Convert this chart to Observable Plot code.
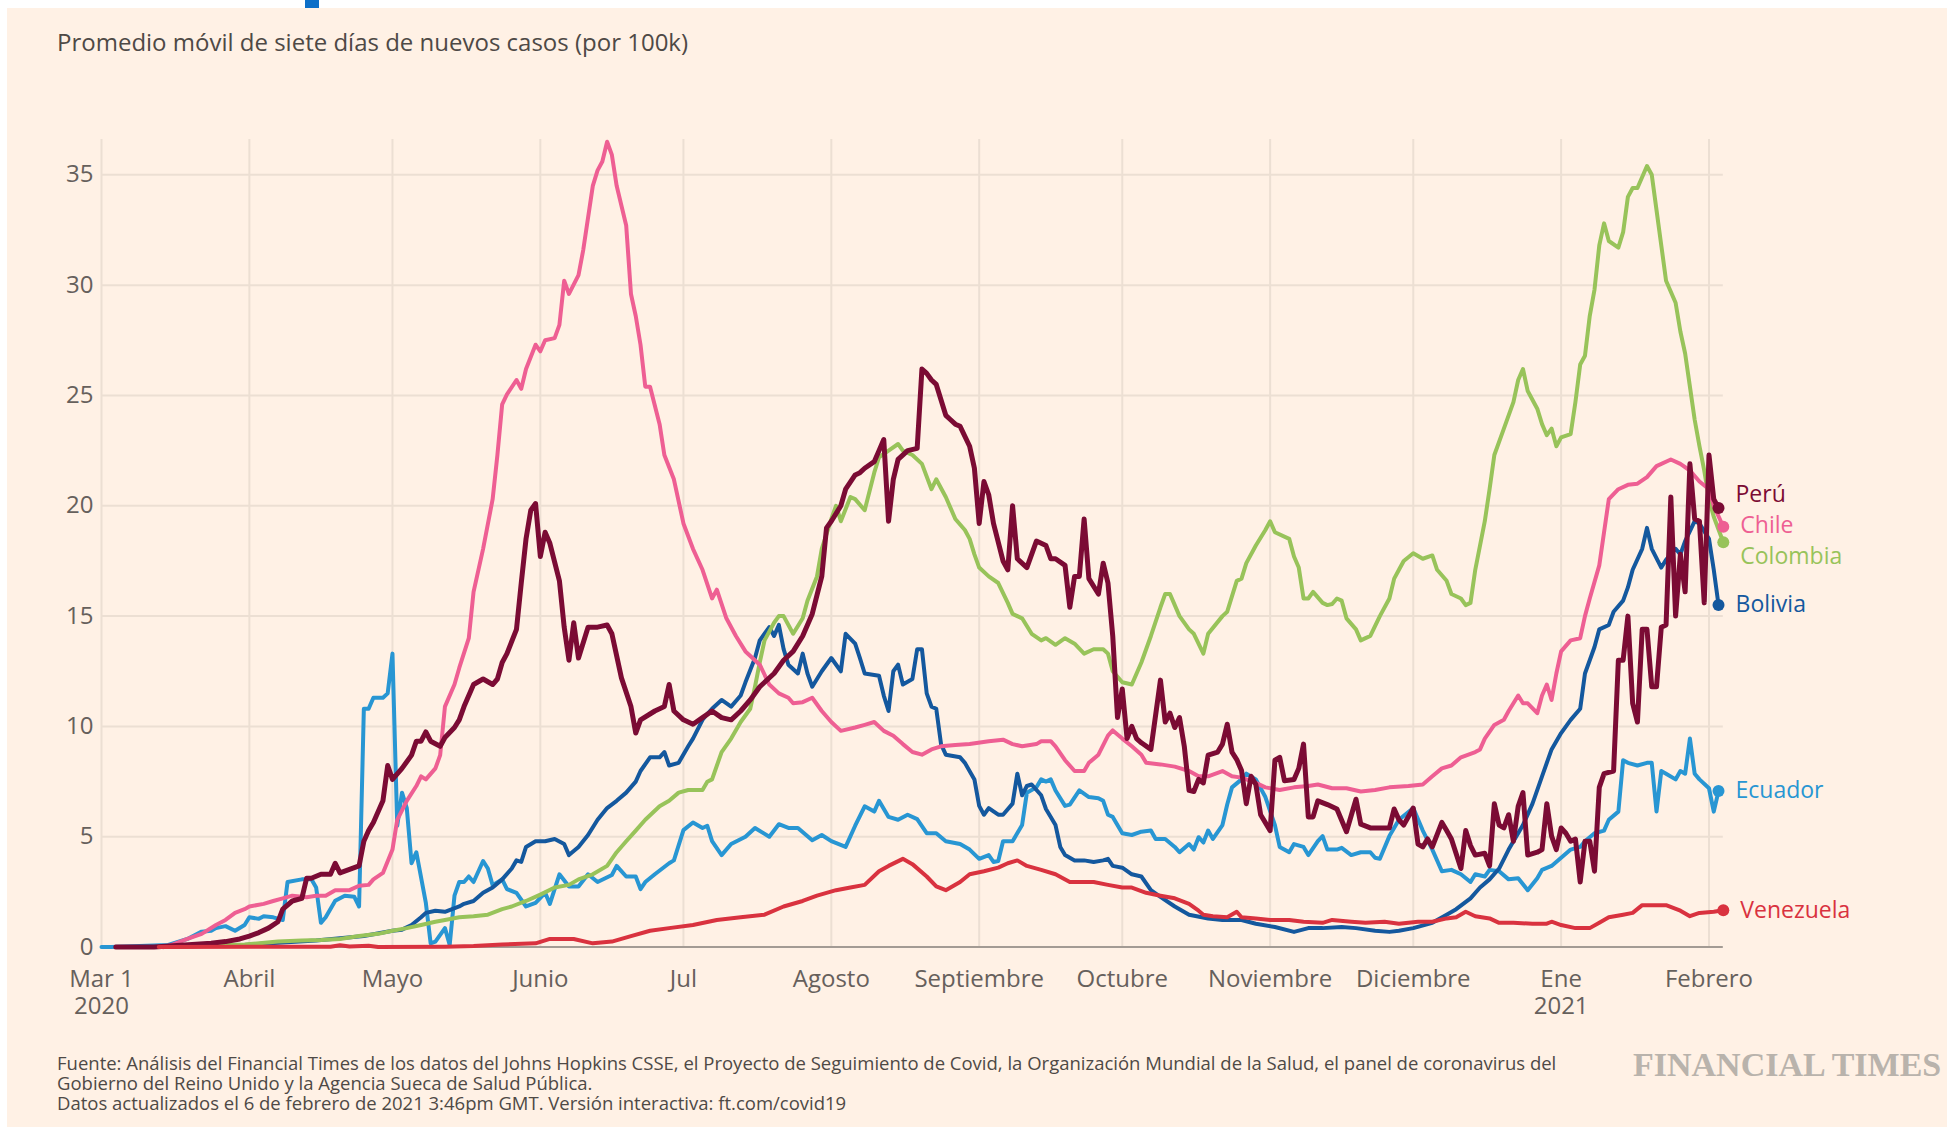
<!DOCTYPE html>
<html>
<head>
<meta charset="utf-8">
<script src="https://cdn.jsdelivr.net/npm/d3@7"></script>
<script src="https://cdn.jsdelivr.net/npm/@observablehq/plot@0.6"></script>
<style>
  html, body { margin: 0; padding: 0; background: #ffffff; }
  body { width: 1947px; height: 1130px; position: relative; overflow: hidden; font-family: 'Open Sans', sans-serif; }
  #bg { position: absolute; left: 7px; top: 8px; right: 0; bottom: 3px; background: #FFF1E5; }
  #bar { position: absolute; left: 305px; top: 0; width: 14px; height: 8px; background: #0d6fc8; }
  #title { position: absolute; left: 57px; top: 30px; font-size: 24px; line-height: 24px; color: #4e4946; white-space: nowrap; }
  #chart { position: absolute; left: 0; top: 0; }
  #footer { position: absolute; left: 57px; top: 1053px; font-size: 18.5px; line-height: 20px; color: #4e4946; white-space: nowrap; }
  #logo { position: absolute; left: 1633px; top: 1048px; font-family: 'Liberation Serif', 'DejaVu Serif', serif; font-weight: bold; font-size: 34px; line-height: 34px; color: #b9b3ac; white-space: nowrap; }
</style>
</head>
<body>
<div id="bg"></div>
<div id="bar"></div>
<div id="title">Promedio móvil de siete días de nuevos casos (por 100k)</div>
<div id="chart"></div>
<div id="footer">Fuente: Análisis del Financial Times de los datos del Johns Hopkins CSSE, el Proyecto de Seguimiento de Covid, la Organización Mundial de la Salud, el panel de coronavirus del<br>Gobierno del Reino Unido y la Agencia Sueca de Salud Pública.<br>Datos actualizados el 6 de febrero de 2021 3:46pm GMT. Versión interactiva: ft.com/covid19</div>
<div id="logo">FINANCIAL TIMES</div>
<script>
// ---------- DATA (day offset from 2020-03-01, 7-day avg new cases per 100k) ----------
const startDate = "2020-03-01";
const endDate = "2021-02-04";

const tickDates = ["2020-03-01","2020-04-01","2020-05-01","2020-06-01","2020-07-01","2020-08-01","2020-09-01","2020-10-01","2020-11-01","2020-12-01","2021-01-01","2021-02-01"];
const tickLabels = ["Mar 1\n2020","Abril","Mayo","Junio","Jul","Agosto","Septiembre","Octubre","Noviembre","Diciembre","Ene\n2021","Febrero"];
const yTicks = [0,5,10,15,20,25,30,35];

const ecuador = [[0,0],[2,0],[14,0.1],[18,0.37],[21,0.7],[23,0.74],[24,0.86],[26,0.95],[28,0.74],[30,1.0],[31,1.35],[33,1.28],[34,1.4],[36,1.35],[38,1.23],[39,2.95],[42,3.07],[44,3.07],[45,2.7],[46,1.1],[47,1.35],[49,2.1],[51,2.33],[53,2.28],[54,1.84],[55,10.8],[56,10.8],[57,11.3],[59,11.3],[60,11.5],[61,13.3],[62,5.5],[63,7.0],[64,6.3],[65,3.8],[66,4.3],[68,2.0],[69,0.17],[70,0.25],[72,0.86],[73,0.1],[74,2.33],[75,2.95],[76,2.95],[77,3.2],[78,2.95],[80,3.9],[81,3.56],[82,2.8],[84,3.07],[85,2.63],[87,2.46],[89,1.84],[91,2.0],[93,2.46],[94,1.96],[96,3.3],[98,2.75],[100,2.75],[102,3.3],[104,2.95],[107,3.27],[108,3.68],[110,3.2],[112,3.2],[113,2.63],[114,2.95],[116,3.3],[119,3.8],[120,3.93],[122,5.3],[124,5.65],[126,5.4],[127,5.5],[128,4.8],[130,4.17],[132,4.67],[135,5.0],[137,5.4],[140,5.0],[142,5.57],[144,5.4],[146,5.4],[149,4.84],[151,5.08],[153,4.8],[156,4.54],[158,5.5],[160,6.38],[162,6.14],[163,6.63],[165,5.9],[167,5.77],[169,6.0],[171,5.8],[173,5.16],[175,5.16],[177,4.8],[180,4.67],[182,4.42],[184,4.0],[186,4.17],[187,3.86],[188,3.9],[189,4.8],[191,4.8],[193,5.53],[194,7.0],[196,7.24],[197,7.6],[198,7.5],[199,7.6],[200,7.1],[202,6.4],[203,6.46],[205,7.1],[207,6.8],[209,6.75],[210,6.63],[211,6.0],[212,5.9],[214,5.16],[216,5.08],[218,5.23],[220,5.28],[221,4.9],[223,4.9],[225,4.54],[226,4.3],[228,4.67],[229,4.42],[230,4.98],[231,4.74],[232,5.28],[233,4.9],[235,5.53],[236,6.46],[237,7.24],[239,7.6],[240,7.86],[242,7.6],[244,6.8],[246,5.53],[247,4.54],[249,4.3],[250,4.67],[252,4.54],[253,4.17],[255,4.8],[256,5.03],[257,4.42],[259,4.42],[260,4.5],[262,4.17],[264,4.3],[266,4.3],[267,4.05],[268,4.0],[270,5.03],[272,5.77],[275,6.3],[277,5.28],[279,4.42],[281,3.44],[283,3.5],[285,3.3],[287,2.95],[288,3.3],[290,3.2],[291,3.5],[293,3.44],[295,3.07],[297,3.12],[299,2.58],[301,3.12],[302,3.5],[304,3.68],[306,4.05],[308,4.42],[310,4.54],[311,4.8],[313,5.16],[315,5.28],[316,5.77],[318,6.14],[319,8.47],[320,8.35],[322,8.23],[324,8.35],[325,8.35],[326,6.14],[327,7.98],[328,7.86],[330,7.6],[331,7.98],[332,7.86],[333,9.45],[334,7.86],[335,7.6],[337,7.2],[338,6.14],[339,7.07]];

const bolivia = [[13,0],[30,0.1],[45,0.3],[55,0.5],[61,0.74],[63,0.79],[65,1.0],[67,1.35],[68,1.55],[70,1.65],[72,1.6],[75,1.84],[76,1.96],[78,2.09],[80,2.46],[82,2.7],[84,3.07],[86,3.56],[87,3.93],[88,3.86],[89,4.54],[91,4.8],[93,4.8],[95,4.9],[97,4.67],[98,4.17],[100,4.54],[102,5.08],[104,5.77],[106,6.3],[108,6.63],[110,7.0],[112,7.5],[113,7.98],[115,8.6],[117,8.6],[118,8.84],[119,8.23],[121,8.35],[123,9.1],[124,9.45],[126,10.3],[127,10.56],[128,10.8],[130,11.2],[132,10.9],[134,11.4],[135,12.0],[137,13.1],[138,13.9],[140,14.5],[141,14.1],[142,14.6],[143,13.5],[144,12.8],[146,12.4],[147,13.3],[148,12.4],[149,11.8],[151,12.5],[153,13.1],[155,12.5],[156,14.2],[158,13.75],[159,13.1],[160,12.4],[163,12.3],[164,11.4],[165,10.7],[166,12.5],[167,12.8],[168,11.9],[170,12.15],[171,13.5],[172,13.5],[173,11.5],[174,10.9],[175,10.8],[176,9.2],[177,8.72],[180,8.6],[181,8.35],[183,7.6],[184,6.4],[185,6.0],[186,6.3],[188,6.0],[189,6.0],[191,6.5],[192,7.86],[193,6.88],[194,7.3],[195,7.37],[197,6.88],[198,6.26],[200,5.53],[201,4.54],[202,4.17],[204,3.93],[206,3.93],[208,3.86],[210,3.93],[211,4.0],[212,3.68],[214,3.6],[216,3.3],[218,3.2],[220,2.58],[222,2.28],[225,1.84],[228,1.47],[232,1.3],[235,1.23],[239,1.23],[242,1.06],[246,0.91],[250,0.69],[253,0.86],[256,0.86],[260,0.91],[263,0.86],[267,0.74],[270,0.69],[272,0.74],[275,0.86],[279,1.1],[282,1.47],[284,1.72],[287,2.21],[289,2.7],[291,3.07],[293,3.56],[295,4.42],[298,5.53],[300,6.5],[302,7.74],[304,8.96],[306,9.7],[308,10.3],[310,10.8],[311,12.4],[313,13.6],[314,14.4],[316,14.6],[317,15.2],[319,15.7],[320,16.3],[321,17.1],[323,18.05],[324,19.0],[325,18.05],[327,17.2],[328,17.55],[330,18.05],[331,17.8],[332,18.4],[334,19.3],[335,19.2],[337,18.5],[338,17.1],[339,15.5]];

const colombia = [[13,0],[20,0.05],[30,0.12],[37,0.25],[42,0.3],[46,0.32],[50,0.37],[54,0.5],[58,0.6],[61,0.74],[64,0.86],[67,1.0],[70,1.15],[72,1.23],[75,1.35],[78,1.4],[81,1.47],[84,1.72],[86,1.84],[89,2.09],[92,2.38],[95,2.7],[98,2.82],[100,3.07],[103,3.3],[106,3.68],[108,4.3],[110,4.8],[112,5.28],[114,5.77],[117,6.38],[119,6.63],[121,7.0],[123,7.12],[126,7.12],[127,7.49],[128,7.6],[130,8.84],[132,9.45],[134,10.2],[136,10.8],[137,11.8],[138,12.9],[139,13.9],[141,14.7],[142,15.0],[143,15.0],[145,14.2],[147,14.9],[148,15.7],[150,16.8],[151,18.05],[153,19.4],[154,20.0],[155,19.3],[157,20.4],[158,20.3],[160,19.8],[162,21.5],[163,22.2],[165,22.5],[167,22.8],[168,22.5],[170,22.3],[172,21.9],[174,20.75],[175,21.2],[177,20.4],[179,19.4],[181,18.9],[182,18.5],[183,17.8],[184,17.2],[186,16.8],[188,16.5],[190,15.6],[191,15.1],[193,14.9],[195,14.2],[197,13.9],[198,14.0],[200,13.7],[202,14.0],[204,13.75],[206,13.3],[208,13.5],[210,13.5],[211,13.3],[212,12.5],[214,12.0],[216,11.9],[218,12.9],[220,14.1],[222,15.4],[223,16.0],[224,16.0],[226,15.0],[228,14.4],[229,14.2],[231,13.3],[232,14.2],[235,15.0],[236,15.2],[238,16.6],[239,16.7],[240,17.4],[242,18.2],[244,18.9],[245,19.3],[246,18.8],[249,18.5],[250,17.7],[251,17.2],[252,15.8],[253,15.8],[254,16.1],[256,15.6],[257,15.5],[258,15.55],[259,15.8],[260,15.7],[261,14.9],[263,14.4],[264,13.9],[265,14.0],[266,14.1],[268,15.0],[270,15.8],[271,16.7],[272,17.1],[273,17.5],[275,17.85],[277,17.6],[279,17.75],[280,17.1],[282,16.6],[283,16.0],[285,15.8],[286,15.5],[287,15.6],[288,17.1],[290,19.3],[291,20.75],[292,22.3],[294,23.5],[296,24.7],[297,25.7],[298,26.2],[299,25.2],[301,24.4],[302,23.7],[303,23.2],[304,23.5],[305,22.7],[306,23.1],[308,23.25],[309,24.7],[310,26.4],[311,26.8],[312,28.6],[313,29.8],[314,31.8],[315,32.8],[316,32.0],[318,31.7],[319,32.4],[320,34.0],[321,34.4],[322,34.4],[324,35.4],[325,35.0],[326,33.4],[327,31.8],[328,30.2],[330,29.2],[331,27.9],[332,26.9],[333,25.4],[334,23.9],[335,22.7],[336,21.6],[337,20.3],[338,19.5],[340,18.35]];

const chile = [[13,0],[15,0.12],[18,0.37],[21,0.6],[24,1.0],[26,1.23],[28,1.55],[30,1.72],[31,1.84],[34,1.96],[36,2.09],[38,2.21],[40,2.33],[43,2.26],[45,2.33],[47,2.33],[49,2.58],[52,2.58],[54,2.78],[56,2.82],[57,3.07],[59,3.36],[61,4.42],[62,5.77],[64,6.63],[66,7.3],[67,7.74],[68,7.6],[70,8.1],[71,8.7],[72,10.9],[74,11.9],[75,12.65],[77,14.0],[78,16.1],[80,18.05],[82,20.3],[83,22.3],[84,24.6],[85,25.05],[87,25.7],[88,25.3],[89,26.2],[91,27.3],[92,27.0],[93,27.5],[95,27.6],[96,28.2],[97,30.2],[98,29.6],[100,30.45],[101,31.6],[103,34.5],[104,35.2],[105,35.6],[106,36.5],[107,35.9],[108,34.5],[110,32.7],[111,29.6],[112,28.6],[113,27.3],[114,25.4],[115,25.4],[117,23.7],[118,22.3],[120,21.2],[122,19.2],[124,18.05],[126,17.1],[128,15.8],[129,16.2],[131,14.9],[133,14.1],[135,13.4],[138,12.8],[140,11.9],[142,11.5],[144,11.3],[145,11.05],[147,11.1],[149,11.3],[151,10.7],[153,10.2],[155,9.8],[158,9.95],[160,10.07],[162,10.2],[164,9.8],[166,9.58],[168,9.2],[170,8.84],[172,8.72],[174,8.96],[176,9.1],[179,9.16],[182,9.2],[186,9.33],[189,9.4],[191,9.2],[193,9.1],[196,9.2],[197,9.33],[199,9.33],[200,9.1],[202,8.47],[204,7.98],[206,7.98],[207,8.35],[209,8.72],[211,9.58],[212,9.82],[214,9.45],[216,9.1],[218,8.72],[219,8.35],[222,8.28],[225,8.18],[228,7.98],[230,7.74],[232,7.74],[235,7.98],[237,7.74],[239,7.68],[242,7.44],[244,7.24],[247,7.12],[250,7.24],[253,7.3],[255,7.37],[258,7.2],[261,7.2],[264,7.05],[267,7.12],[270,7.24],[274,7.3],[277,7.37],[279,7.74],[281,8.1],[283,8.23],[285,8.6],[288,8.84],[289,8.96],[290,9.45],[292,10.07],[294,10.3],[295,10.7],[297,11.4],[298,11.05],[299,11.05],[301,10.6],[302,11.4],[303,11.9],[304,11.2],[305,12.4],[306,13.4],[308,13.9],[310,14.0],[311,15.0],[312,15.8],[314,17.3],[315,18.8],[316,20.3],[318,20.75],[320,20.95],[322,21.0],[324,21.3],[326,21.8],[329,22.1],[331,21.9],[333,21.6],[335,21.1],[337,20.75],[338,20.0],[340,19.05]];

const peru = [[3,0],[11,0],[19,0.12],[23,0.17],[26,0.25],[29,0.37],[31,0.5],[33,0.66],[35,0.86],[37,1.15],[38,1.72],[40,2.09],[42,2.21],[43,3.12],[44,3.12],[46,3.3],[48,3.3],[49,3.8],[50,3.36],[51,3.44],[53,3.6],[54,3.68],[55,4.8],[56,5.28],[57,5.65],[59,6.63],[60,8.23],[61,7.6],[63,8.1],[65,8.7],[66,9.33],[67,9.33],[68,9.75],[69,9.33],[71,9.1],[72,9.5],[74,9.95],[75,10.3],[76,10.9],[78,11.9],[80,12.15],[82,11.9],[83,12.15],[84,12.9],[85,13.3],[87,14.4],[88,16.5],[89,18.5],[90,19.8],[91,20.1],[92,17.7],[93,18.8],[94,18.3],[96,16.6],[97,14.5],[98,13.0],[99,14.7],[100,13.1],[102,14.5],[104,14.5],[106,14.6],[107,14.2],[109,12.2],[111,10.9],[112,9.7],[113,10.3],[116,10.7],[118,10.9],[119,11.9],[120,10.7],[122,10.3],[124,10.1],[126,10.4],[128,10.7],[130,10.4],[132,10.3],[134,10.7],[136,11.2],[138,11.8],[141,12.4],[143,13.0],[145,13.4],[147,14.1],[149,15.1],[151,16.8],[152,19.0],[153,19.3],[155,20.0],[156,20.75],[158,21.4],[159,21.5],[160,21.7],[162,22.0],[163,22.5],[164,23.0],[165,19.3],[166,21.2],[167,22.1],[169,22.5],[171,22.6],[172,26.2],[173,26.0],[174,25.7],[175,25.5],[177,24.1],[178,23.9],[179,23.7],[180,23.6],[182,22.7],[183,21.7],[184,19.2],[185,21.1],[186,20.5],[187,19.2],[189,17.5],[190,17.1],[191,20.0],[192,17.6],[194,17.2],[196,18.4],[198,18.2],[199,17.6],[200,17.6],[202,17.3],[203,15.4],[204,16.8],[205,16.8],[206,19.4],[207,16.7],[209,16.0],[210,17.4],[211,16.5],[212,14.1],[213,10.4],[214,11.7],[215,9.45],[216,10.0],[217,9.45],[218,9.26],[220,8.96],[222,12.1],[223,10.2],[224,10.6],[225,9.95],[226,10.4],[227,9.1],[228,7.1],[229,7.05],[230,7.6],[231,7.44],[232,8.7],[234,8.84],[235,9.2],[236,10.1],[237,8.84],[238,8.5],[239,8.0],[240,6.5],[241,7.74],[242,7.37],[243,6.0],[245,5.28],[246,8.47],[247,8.6],[248,7.54],[250,7.6],[251,8.1],[252,9.2],[253,5.9],[254,5.9],[255,6.63],[257,6.46],[259,6.26],[261,5.23],[263,6.7],[264,5.57],[266,5.4],[268,5.4],[270,5.4],[271,6.26],[272,5.77],[273,5.53],[275,6.3],[276,4.67],[277,4.54],[278,4.9],[279,4.54],[281,5.65],[282,5.28],[283,4.9],[285,3.56],[286,5.28],[287,4.6],[288,4.17],[290,4.25],[291,3.68],[292,6.5],[293,5.53],[294,5.4],[295,6.0],[296,4.8],[297,6.38],[298,7.0],[299,4.17],[301,4.3],[302,4.42],[303,6.5],[304,5.03],[305,4.42],[306,5.4],[307,5.16],[308,4.8],[309,4.9],[310,2.95],[311,4.8],[312,4.8],[313,3.44],[314,7.24],[315,7.86],[317,7.98],[318,13.0],[319,13.0],[320,15.0],[321,11.05],[322,10.2],[323,14.4],[324,14.4],[325,11.8],[326,11.8],[327,14.5],[328,14.6],[329,20.4],[330,15.0],[331,17.8],[332,16.1],[333,21.9],[334,19.4],[335,19.3],[336,15.6],[337,22.3],[338,20.3],[339,19.9]];

const venezuela = [[12,0],[48,0.02],[50,0.08],[52,0.03],[56,0.06],[58,0],[72,0.02],[78,0.05],[84,0.12],[91,0.17],[94,0.37],[99,0.37],[103,0.17],[107,0.25],[111,0.5],[115,0.74],[119,0.86],[124,1.0],[129,1.23],[134,1.35],[139,1.47],[143,1.84],[147,2.09],[150,2.33],[154,2.58],[157,2.7],[160,2.82],[163,3.44],[165,3.68],[168,4.0],[170,3.76],[173,3.2],[175,2.75],[177,2.58],[180,2.95],[182,3.3],[185,3.44],[188,3.6],[190,3.8],[192,3.93],[194,3.68],[197,3.5],[200,3.3],[203,2.95],[205,2.95],[208,2.95],[211,2.82],[214,2.7],[216,2.7],[219,2.46],[222,2.33],[225,2.21],[228,1.96],[230,1.65],[231,1.47],[233,1.4],[236,1.35],[238,1.6],[239,1.35],[242,1.3],[245,1.23],[249,1.23],[252,1.15],[256,1.1],[258,1.23],[262,1.15],[265,1.1],[269,1.15],[272,1.06],[276,1.15],[279,1.15],[282,1.3],[284,1.35],[286,1.6],[288,1.4],[291,1.3],[293,1.1],[296,1.1],[300,1.06],[303,1.06],[304,1.15],[306,1.0],[309,0.86],[312,0.86],[314,1.1],[316,1.35],[319,1.47],[321,1.55],[323,1.9],[326,1.9],[328,1.9],[331,1.65],[333,1.4],[335,1.55],[338,1.6],[340,1.67]];

// ---------- STYLE (draw order bottom → top) ----------
const series = [
  {name: "Ecuador",   data: ecuador,   color: "#2896d3", width: 4},
  {name: "Bolivia",   data: bolivia,   color: "#14589e", width: 4},
  {name: "Colombia",  data: colombia,  color: "#98c35a", width: 4},
  {name: "Chile",     data: chile,     color: "#ee5f93", width: 4},
  {name: "Perú",      data: peru,      color: "#7b0b34", width: 5},
  {name: "Venezuela", data: venezuela, color: "#d9323f", width: 4}
];

const DAY = 864e5;
const t0 = Date.parse(startDate + "T00:00:00Z");
const toDate = d => new Date(t0 + d * DAY);
const parse = s => new Date(s + "T00:00:00Z");

const rows = series.map(s => s.data.map(([d, v]) => ({name: s.name, date: toDate(d), value: v})));

// end points + dodged label positions (in data units)
const ends = series.map((s, i) => {
  const last = s.data[s.data.length - 1];
  return {name: s.name, color: s.color, date: toDate(last[0]), value: last[1], ly: last[1]};
});
const gap = 1.42;
const sorted = ends.slice().sort((a, b) => b.value - a.value);
for (let it = 0; it < 200; it++) {
  for (let k = 0; k < sorted.length - 1; k++) {
    const a = sorted[k], b = sorted[k + 1];
    const diff = a.ly - b.ly;
    if (diff < gap) { const s = (gap - diff) / 2; a.ly += s; b.ly -= s; }
  }
}

const tickMap = new Map(tickDates.map((d, i) => [+parse(d), tickLabels[i]]));
const GRID = "#ecdfd3";
const TEXT = "#66605c";

const plot = Plot.plot({
  width: 1947,
  height: 1130,
  marginLeft: 101,
  marginRight: 224.2,
  marginTop: 139,
  marginBottom: 183.4,
  style: {background: "transparent", fontFamily: "'Open Sans', sans-serif", fontSize: "24px", overflow: "visible"},
  x: {type: "utc", domain: [parse(startDate), parse(endDate)], label: null},
  y: {domain: [0, 36.6], label: null},
  marks: [
    Plot.gridX(tickDates.map(parse), {stroke: GRID, strokeOpacity: 1, strokeWidth: 2}),
    Plot.gridY(yTicks.filter(v => v > 0), {stroke: GRID, strokeOpacity: 1, strokeWidth: 2}),
    Plot.ruleY([0], {stroke: "#a39b94", strokeWidth: 2}),
    Plot.axisY({ticks: yTicks, tickSize: 0, tickPadding: 8, fill: TEXT, fontSize: 24, label: null}),
    Plot.axisX({ticks: tickDates.map(parse), tickSize: 0, tickPadding: 20.5, tickFormat: d => tickMap.get(+d), fill: TEXT, fontSize: 24, lineHeight: 1.13, label: null}),
    ...series.map((s, i) => Plot.line(rows[i], {x: "date", y: "value", stroke: s.color, strokeWidth: s.width, strokeLinejoin: "round", strokeLinecap: "round"})),
    ...ends.map(e => Plot.dot([e], {x: "date", y: "value", r: 6, fill: e.color, stroke: "none"})),
    ...ends.map(e => Plot.text([e], {x: "date", y: "ly", text: "name", dx: 17, textAnchor: "start", fill: e.color, fontSize: 23}))
  ]
});
document.getElementById("chart").appendChild(plot);
</script>
</body>
</html>
